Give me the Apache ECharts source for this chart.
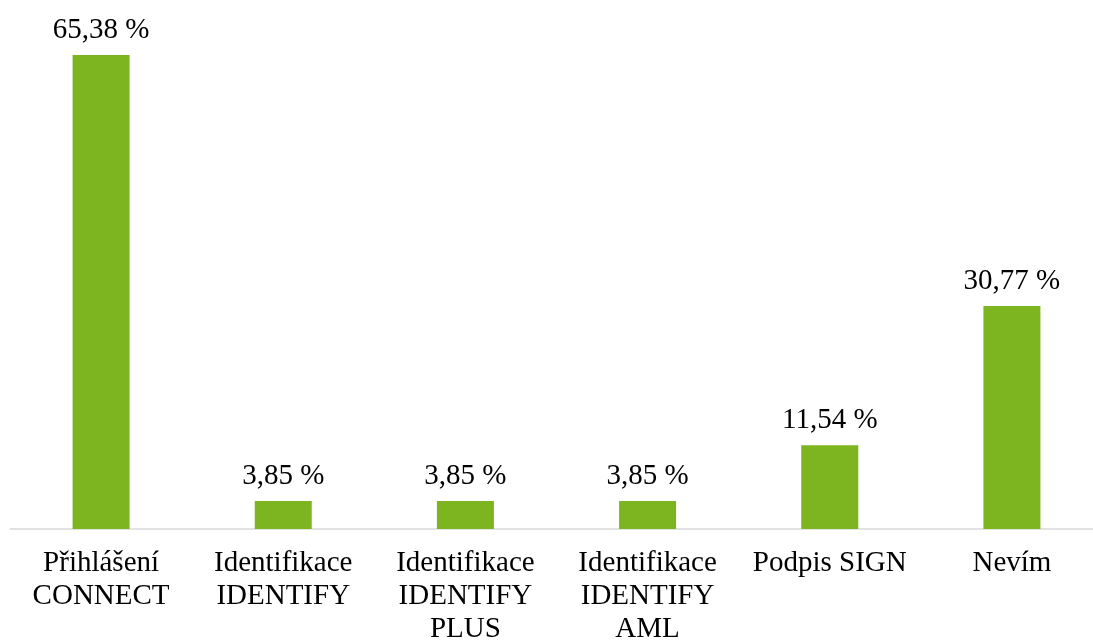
<!DOCTYPE html>
<html>
<head>
<meta charset="utf-8">
<script src="https://cdn.jsdelivr.net/npm/echarts@6/dist/echarts.min.js"></script>
<style>
html,body{margin:0;padding:0;background:#fff;}
#chart{width:1093px;height:641px;}
</style>
</head>
<body>
<div id="chart"></div>
<script>
var categories = ["Přihlášení\nCONNECT", "Identifikace\nIDENTIFY", "Identifikace\nIDENTIFY\nPLUS", "Identifikace\nIDENTIFY\nAML", "Podpis SIGN", "Nevím"];
var values = [65.38, 3.85, 3.85, 3.85, 11.54, 30.77];

var chart = echarts.init(document.getElementById('chart'));
var font = '"Liberation Serif", "Times New Roman", serif';
chart.setOption({
  animation: false,
  backgroundColor: '#ffffff',
  grid: { left: 10, width: 1093, top: 21.5, height: 507.5, outerBoundsMode: 'none', containLabel: false },
  xAxis: {
    type: 'category',
    data: categories,
    axisLine: { show: true, lineStyle: { color: '#d9d9d9', width: 1.5 } },
    axisTick: { show: false },
    axisLabel: {
      interval: 0,
      color: '#000',
      fontFamily: font,
      fontSize: 29,
      lineHeight: 33,
      margin: 18
    }
  },
  yAxis: {
    type: 'value',
    min: 0,
    max: 70,
    show: false,
    splitLine: { show: false }
  },
  series: [{
    type: 'bar',
    data: values,
    barWidth: 57,
    itemStyle: { color: '#7cb51f' },
    label: {
      show: true,
      position: 'top',
      distance: 10,
      color: '#000',
      fontFamily: font,
      fontSize: 29,
      formatter: function (p) { return p.value.toFixed(2).replace('.', ',') + ' %'; }
    }
  }]
});
</script>
</body>
</html>
